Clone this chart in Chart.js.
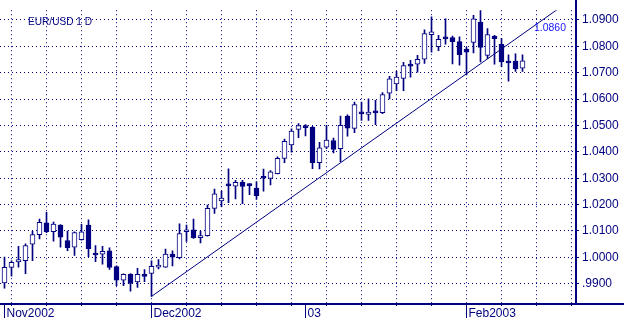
<!DOCTYPE html>
<html>
<head>
<meta charset="utf-8">
<script src="https://cdn.jsdelivr.net/npm/chart.js@4.4.1/dist/chart.umd.min.js"></script>
<style>
  html, body { margin: 0; padding: 0; background: #fff; }
</style>
</head>
<body>
<canvas id="fxChart" width="624" height="320"></canvas>
<script>
// EUR/USD daily, trading day index 0 = 1 Nov 2002
const opens  = [0.9903, 0.9962, 0.9983, 0.9987, 1.0050, 1.0086, 1.0131, 1.0097, 1.0122, 1.0064,
                1.0039, 1.0067, 1.0122, 1.0012, 1.0012, 1.0025, 0.9965, 0.9914, 0.9936, 0.9907,
                0.9932, 0.9939, 0.9963, 0.9963, 1.0012, 0.9999, 1.0097, 1.0104, 1.0075, 1.0082,
                1.0186, 1.0214, 1.0274, 1.0270, 1.0284, 1.0275, 1.0263, 1.0303, 1.0299, 1.0317,
                1.0375, 1.0426, 1.0485, 1.0500, 1.0493, 1.0359, 1.0418, 1.0443, 1.0412, 1.0536,
                1.0489, 1.0547, 1.0542, 1.0551, 1.0549, 1.0622, 1.0658, 1.0678, 1.0728, 1.0732,
                1.0751, 1.0844, 1.0799, 1.0831, 1.0833, 1.0818, 1.0790, 1.0815, 1.0892, 1.0766,
                1.0839, 1.0808, 1.0740, 1.0744, 1.0717];
const highs  = [1.0001, 0.9987, 1.0042, 1.0051, 1.0100, 1.0145, 1.0171, 1.0134, 1.0124, 1.0100,
                1.0097, 1.0125, 1.0142, 1.0045, 1.0042, 1.0036, 0.9968, 0.9938, 0.9939, 0.9958,
                0.9954, 0.9987, 0.9992, 1.0031, 1.0025, 1.0127, 1.0122, 1.0145, 1.0100, 1.0198,
                1.0259, 1.0251, 1.0336, 1.0292, 1.0292, 1.0280, 1.0287, 1.0335, 1.0329, 1.0381,
                1.0448, 1.0487, 1.0507, 1.0503, 1.0497, 1.0436, 1.0501, 1.0452, 1.0536, 1.0540,
                1.0589, 1.0589, 1.0601, 1.0595, 1.0625, 1.0686, 1.0705, 1.0739, 1.0747, 1.0766,
                1.0863, 1.0912, 1.0842, 1.0904, 1.0839, 1.0836, 1.0796, 1.0918, 1.0937, 1.0867,
                1.0842, 1.0830, 1.0768, 1.0772, 1.0768];
const lows   = [0.9883, 0.9929, 0.9963, 0.9938, 0.9987, 1.0070, 1.0094, 1.0061, 1.0039, 1.0025,
                1.0007, 1.0065, 1.0003, 0.9984, 0.9974, 0.9954, 0.9893, 0.9893, 0.9872, 0.9886,
                0.9908, 0.9852, 0.9956, 0.9962, 0.9968, 0.9994, 1.0060, 1.0072, 1.0055, 1.0080,
                1.0167, 1.0192, 1.0207, 1.0222, 1.0204, 1.0238, 1.0220, 1.0251, 1.0275, 1.0316,
                1.0359, 1.0399, 1.0454, 1.0460, 1.0336, 1.0335, 1.0412, 1.0396, 1.0363, 1.0459,
                1.0473, 1.0519, 1.0519, 1.0503, 1.0545, 1.0601, 1.0632, 1.0632, 1.0683, 1.0702,
                1.0735, 1.0778, 1.0784, 1.0808, 1.0733, 1.0729, 1.0692, 1.0775, 1.0741, 1.0753,
                1.0732, 1.0723, 1.0668, 1.0705, 1.0705];
const closes = [0.9962, 0.9981, 0.9992, 1.0045, 1.0086, 1.0133, 1.0097, 1.0126, 1.0077, 1.0037,
                1.0094, 1.0097, 1.0033, 1.0009, 1.0023, 0.9962, 0.9914, 0.9936, 0.9901, 0.9936,
                0.9928, 0.9966, 0.9968, 1.0012, 1.0001, 1.0090, 1.0104, 1.0075, 1.0083, 1.0186,
                1.0241, 1.0225, 1.0271, 1.0284, 1.0269, 1.0272, 1.0234, 1.0300, 1.0324, 1.0375,
                1.0440, 1.0479, 1.0500, 1.0492, 1.0359, 1.0415, 1.0445, 1.0409, 1.0501, 1.0490,
                1.0579, 1.0544, 1.0551, 1.0548, 1.0617, 1.0677, 1.0683, 1.0727, 1.0725, 1.0751,
                1.0848, 1.0855, 1.0827, 1.0828, 1.0818, 1.0768, 1.0778, 1.0904, 1.0796, 1.0845,
                1.0829, 1.0741, 1.0737, 1.0714, 1.0745];

// trend line drawn from the 2 Dec low
const trendX = [21, 80];
const trendY = [0.9852, 1.0959];

const monthIdx = [0, 21, 43, 66];
const monthLabels = ['Nov2002', 'Dec2002', '03', 'Feb2003'];
const mondays = [1, 6, 11, 16, 21, 26, 31, 36, 41, 46, 51, 56, 61, 66, 71, 76, 81];
const yTicks = [0.99, 1.00, 1.01, 1.02, 1.03, 1.04, 1.05, 1.06, 1.07, 1.08, 1.09];

const chartTitle = 'EUR/USD 1 D';
const lastLabel = '1.0860';

const navy = '#000080';
const font = '"Liberation Sans", Arial, sans-serif';
const xMin = -4.5 / 7, xMax = 570.5 / 7;
const yMin = 0.9827, yMax = 1.0937;

// axis lines and the two text labels
const decorations = {
  id: 'decorations',
  afterDraw(chart) {
    const { ctx, chartArea } = chart;
    ctx.save();
    ctx.strokeStyle = navy;
    ctx.lineWidth = 2;
    ctx.beginPath();
    ctx.moveTo(chartArea.right + 1, 0);
    ctx.lineTo(chartArea.right + 1, chartArea.bottom + 1);
    ctx.moveTo(0, chartArea.bottom + 1);
    ctx.lineTo(chart.width, chartArea.bottom + 1);
    ctx.stroke();

    ctx.fillStyle = navy;
    ctx.font = '11px ' + font;
    ctx.textBaseline = 'alphabetic';
    ctx.fillText(chartTitle, 28, 25, 64);

    ctx.fillStyle = '#1515ff';
    ctx.fillText(lastLabel, 534, 31, 32);
    ctx.restore();
  }
};

const ctx = document.getElementById('fxChart').getContext('2d');
const fxChart = new Chart(ctx, {
  type: 'bar',
  data: {
    datasets: [
      {
        // candle bodies
        data: opens.map((o, i) => ({ x: i, y: [o, closes[i]] })),
        backgroundColor: opens.map((o, i) => closes[i] > o ? '#ffffff' : navy),
        borderColor: navy,
        borderWidth: 1,
        borderSkipped: false,
        barThickness: 5,
        minBarLength: 2,
        grouped: false,
        xAxisID: 'x',
        yAxisID: 'y'
      },
      {
        // wicks
        data: lows.map((l, i) => ({ x: i, y: [l, highs[i]] })),
        backgroundColor: navy,
        borderWidth: 0,
        barThickness: 1,
        grouped: false,
        xAxisID: 'x',
        yAxisID: 'y'
      },
      {
        type: 'line',
        data: trendX.map((x, i) => ({ x: x, y: trendY[i] })),
        borderColor: navy,
        borderWidth: 1,
        pointRadius: 0,
        fill: false,
        xAxisID: 'x',
        yAxisID: 'y'
      }
    ]
  },
  options: {
    responsive: false,
    animation: false,
    layout: { padding: 0 },
    plugins: {
      legend: { display: false },
      tooltip: { enabled: false }
    },
    scales: {
      x: {
        type: 'linear',
        position: 'bottom',
        min: xMin,
        max: xMax,
        offset: false,
        weight: 0,
        afterBuildTicks: s => { s.ticks = mondays.map(v => ({ value: v })); },
        afterFit: s => { s.height = 0; },
        grid: { offset: false, color: navy, lineWidth: 1, tickLength: 3, tickColor: navy },
        border: { display: false, dash: [1, 3] },
        ticks: { display: false }
      },
      months: {
        type: 'linear',
        axis: 'x',
        position: 'bottom',
        min: xMin,
        max: xMax,
        offset: false,
        weight: 1,
        afterBuildTicks: s => { s.ticks = monthIdx.map(v => ({ value: v })); },
        afterFit: s => { s.height = 17; },
        grid: { offset: false, drawOnChartArea: false, tickLength: 15, tickColor: navy, color: navy },
        border: { display: false },
        ticks: {
          align: 'start',
          labelOffset: 2,
          padding: -12,
          autoSkip: false,
          maxRotation: 0,
          minRotation: 0,
          color: navy,
          font: { family: font, size: 12 },
          callback: (v, i) => monthLabels[i]
        }
      },
      y: {
        position: 'right',
        min: yMin,
        max: yMax,
        afterBuildTicks: s => { s.ticks = yTicks.map(v => ({ value: v })); },
        afterFit: s => { s.width = 49; },
        grid: { color: navy, lineWidth: 1, tickLength: 4, tickColor: navy },
        border: { display: false, dash: [1, 3] },
        ticks: {
          padding: 3,
          color: navy,
          font: { family: font, size: 12 },
          callback: v => v < 1 ? v.toFixed(4).slice(1) : v.toFixed(4)
        }
      }
    }
  },
  plugins: [decorations]
});
</script>
</body>
</html>
